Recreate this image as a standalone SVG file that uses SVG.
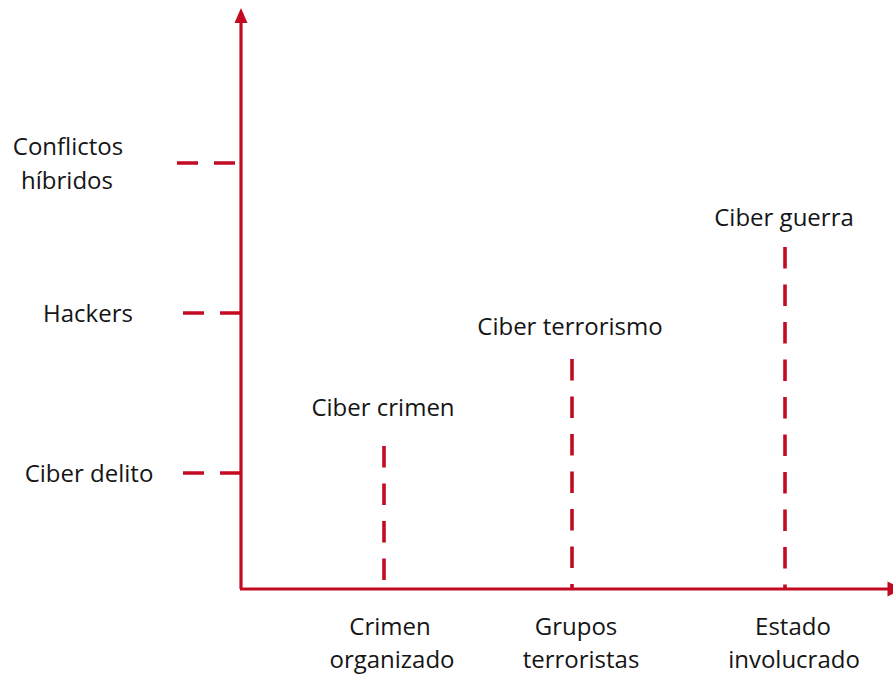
<svg xmlns="http://www.w3.org/2000/svg" width="893" height="677" viewBox="0 0 893 677">
  <style>
    .lbl { font-family: "Open Sans", "Noto Sans", "Liberation Sans", sans-serif; font-size: 24px; fill: #151515; text-anchor: middle; }
    .axis { stroke: #c20a22; stroke-width: 3.2; fill: none; }
    .tick { stroke: #c20a22; stroke-width: 3.4; stroke-dasharray: 21 16; fill: none; }
    .level { stroke: #c20a22; stroke-width: 3.6; stroke-dasharray: 21.5 16; fill: none; }
    .head { fill: #c20a22; }
  </style>

  <!-- axes -->
  <g id="axes">
    <line class="axis" x1="241" y1="589" x2="241" y2="20"/>
    <polygon class="head" points="241,8 234.5,23 247.5,23"/>
    <line class="axis" x1="240" y1="589" x2="889" y2="589"/>
    <polygon class="head" points="902,589 887.5,581.5 887.5,596.5"/>
  </g>

  <!-- vertical-axis categories -->
  <g id="y-conflictos">
    <text class="lbl" x="68" y="155">Conflictos</text>
    <text class="lbl" x="67" y="189">híbridos</text>
  </g>
  <g id="y-hackers">
    <text class="lbl" x="88" y="322">Hackers</text>
  </g>
  <g id="y-delito">
    <text class="lbl" x="89" y="482">Ciber delito</text>
  </g>

  <!-- horizontal-axis categories -->
  <g id="x-crimen">
    <text class="lbl" x="390" y="635">Crimen</text>
    <text class="lbl" x="392" y="668">organizado</text>
  </g>
  <g id="x-grupos">
    <text class="lbl" x="576" y="635">Grupos</text>
    <text class="lbl" x="581" y="668">terroristas</text>
  </g>
  <g id="x-estado">
    <text class="lbl" x="793" y="635">Estado</text>
    <text class="lbl" x="794" y="668">involucrado</text>
  </g>

  <!-- plotted levels -->
  <g id="p-crimen">
    <text class="lbl" x="383" y="416">Ciber crimen</text>
  </g>
  <g id="p-terrorismo">
    <text class="lbl" x="570" y="335">Ciber terrorismo</text>
  </g>
  <g id="p-guerra">
    <text class="lbl" x="784" y="226">Ciber guerra</text>
  </g>

  <!-- dashed guides -->
  <g id="connectors">
    <line class="tick" x1="177" y1="163" x2="241" y2="163"/>
    <line class="tick" x1="183" y1="313" x2="241" y2="313"/>
    <line class="tick" x1="183" y1="473" x2="241" y2="473"/>
    <line class="level" x1="384" y1="446" x2="384" y2="588"/>
    <line class="level" x1="572" y1="359" x2="572" y2="588"/>
    <line class="level" x1="785" y1="247" x2="785" y2="588"/>
  </g>
</svg>
